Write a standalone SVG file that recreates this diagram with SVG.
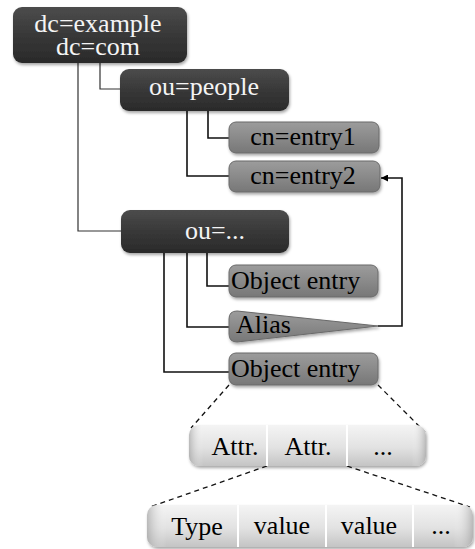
<svg xmlns="http://www.w3.org/2000/svg" width="475" height="549" viewBox="0 0 475 549">
<defs>
<linearGradient id="gDark" x1="0" y1="0" x2="0" y2="1">
<stop offset="0" stop-color="#4c4c4c"/>
<stop offset="0.5" stop-color="#383838"/>
<stop offset="1" stop-color="#2a2a2a"/>
</linearGradient>
<linearGradient id="gMid" x1="0" y1="0" x2="0" y2="1">
<stop offset="0" stop-color="#9c9c9c"/>
<stop offset="0.5" stop-color="#8a8a8a"/>
<stop offset="1" stop-color="#777777"/>
</linearGradient>
<linearGradient id="gLight" x1="0" y1="0" x2="0" y2="1">
<stop offset="0" stop-color="#f4f4f4"/>
<stop offset="0.55" stop-color="#e2e2e2"/>
<stop offset="1" stop-color="#c4c4c4"/>
</linearGradient>
<linearGradient id="gLightEdge" x1="0" y1="0" x2="1" y2="0">
<stop offset="0" stop-color="#9a9a9a" stop-opacity="0.6"/>
<stop offset="0.06" stop-color="#ffffff" stop-opacity="0"/>
<stop offset="0.94" stop-color="#ffffff" stop-opacity="0"/>
<stop offset="1" stop-color="#9a9a9a" stop-opacity="0.6"/>
</linearGradient>
<filter id="shadow" x="-10%" y="-20%" width="125%" height="150%">
<feDropShadow dx="1" dy="2" stdDeviation="1.5" flood-color="#000" flood-opacity="0.35"/>
</filter>
<marker id="arrow" viewBox="0 0 10 10" refX="10" refY="5" markerWidth="7" markerHeight="7" orient="auto-start-reverse" markerUnits="userSpaceOnUse">
<path d="M0,0 L10,5 L0,10 Z" fill="#000"/>
</marker>
<style>
.dark{fill:url(#gDark);filter:url(#shadow);}
.mid{fill:url(#gMid);stroke:#6a6a6a;stroke-width:1;filter:url(#shadow);}
.light{fill:url(#gLight);filter:url(#shadow);}
.edge{fill:url(#gLightEdge);}
.t{font-family:'Liberation Serif','Times New Roman',serif;font-size:26px;}
.tw{fill:#f4f4f4;}
.tb{fill:#000;}
.c{text-anchor:middle;}
.conn{fill:none;stroke:#111;stroke-width:1.6;}
.thin{fill:none;stroke:#333;stroke-width:1.2;}
.dash{fill:none;stroke:#111;stroke-width:1.3;stroke-dasharray:5 4;}
.div{stroke:#ffffff;stroke-width:2;}
</style>
</defs>

<g id="connectors">
<path class="thin" d="M78,63 V231 H121"/>
<path class="thin" d="M100,63 V89 H121"/>
<path class="conn" d="M208,111 V138 H230"/>
<path class="conn" d="M187,111 V176 H230"/>
<path class="conn" d="M207,253 V286 H231"/>
<path class="conn" d="M187,253 V327 H231"/>
<path class="conn" d="M164,253 V372 H231"/>
<path class="conn" d="M378,326 H402 V178 H381" marker-end="url(#arrow)"/>
<path class="dash" d="M229,385 L191,428"/>
<path class="dash" d="M378,385 L425,432"/>
<path class="dash" d="M267,466 L150,507"/>
<path class="dash" d="M347,466 L470,507"/>
</g>

<g id="node-dc-example">
<rect class="dark" x="13" y="7" width="174" height="56" rx="9"/>
<text class="t tw c" x="98" y="31.5">dc=example</text>
<text class="t tw c" x="98" y="55">dc=com</text>
</g>

<g id="node-ou-people">
<rect class="dark" x="120" y="69" width="169" height="42" rx="9"/>
<text class="t tw c" x="204" y="95">ou=people</text>
</g>

<g id="node-cn-entry1">
<rect class="mid" x="229" y="122" width="150" height="31" rx="7"/>
<text class="t tb c" x="303" y="145">cn=entry1</text>
</g>

<g id="node-cn-entry2">
<rect class="mid" x="229" y="161" width="151" height="31" rx="7"/>
<text class="t tb c" x="303" y="184">cn=entry2</text>
</g>

<g id="node-ou-dots">
<rect class="dark" x="121" y="210" width="168" height="43" rx="9"/>
<text class="t tw c" x="215" y="239">ou=...</text>
</g>

<g id="node-object-entry-1">
<rect class="mid" x="229" y="265" width="149" height="32" rx="7"/>
<text class="t tb" x="231" y="289">Object entry</text>
</g>

<g id="node-alias">
<path class="mid" d="M237,311 L378,326 L237,342 Q229,342 229,334 L229,319 Q229,311 237,311 Z"/>
<text class="t tb" x="236" y="333">Alias</text>
</g>

<g id="node-object-entry-2">
<rect class="mid" x="229" y="353" width="149" height="32" rx="7"/>
<text class="t tb" x="231" y="377">Object entry</text>
</g>

<g id="node-attributes">
<rect class="light" x="189" y="425" width="237" height="41" rx="10"/>
<rect class="edge" x="189" y="425" width="237" height="41" rx="10"/>
<line class="div" x1="267" y1="425" x2="267" y2="466"/>
<line class="div" x1="347" y1="425" x2="347" y2="466"/>
<text class="t tb c" x="235" y="455">Attr.</text>
<text class="t tb c" x="308" y="455">Attr.</text>
<text class="t tb c" x="383" y="455">...</text>
</g>

<g id="node-values">
<rect class="light" x="147" y="505" width="326" height="42" rx="10"/>
<rect class="edge" x="147" y="505" width="326" height="42" rx="10"/>
<line class="div" x1="238" y1="505" x2="238" y2="547"/>
<line class="div" x1="326" y1="505" x2="326" y2="547"/>
<line class="div" x1="413" y1="505" x2="413" y2="547"/>
<text class="t tb c" x="197" y="535">Type</text>
<text class="t tb c" x="282" y="534">value</text>
<text class="t tb c" x="369" y="534">value</text>
<text class="t tb c" x="441" y="534">...</text>
</g>
</svg>
